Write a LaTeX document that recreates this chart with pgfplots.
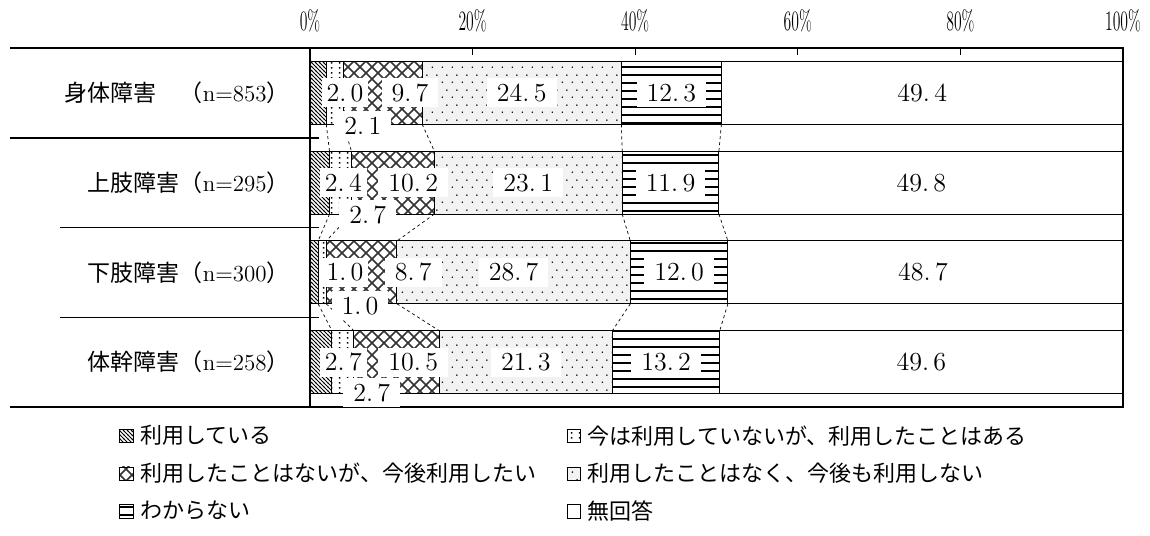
\documentclass[border=0pt]{standalone}
\usepackage{fontspec}
\newfontfamily\cjk{Noto Sans CJK JP}
\usepackage{pgfplots}
\usepackage{pgfplotstable}
\pgfplotsset{compat=1.18}
\usetikzlibrary{patterns}

% patterns (1px = 0.5pt)
\pgfdeclarepatternformonly{pdiag}{\pgfqpoint{-1pt}{-1pt}}{\pgfqpoint{3pt}{3pt}}{\pgfqpoint{2pt}{2pt}}{%
  \pgfsetlinewidth{0.5pt}%
  \pgfpathmoveto{\pgfqpoint{-0.1pt}{2.1pt}}%
  \pgfpathlineto{\pgfqpoint{2.1pt}{-0.1pt}}%
  \pgfusepath{stroke}}
\pgfdeclarepatternformonly{pfine}{\pgfqpoint{0pt}{0pt}}{\pgfqpoint{4pt}{2.5pt}}{\pgfqpoint{4pt}{2.5pt}}{%
  \pgfpathrectangle{\pgfqpoint{1.6pt}{0.85pt}}{\pgfqpoint{0.8pt}{0.8pt}}%
  \pgfusepath{fill}}
\pgfdeclarepatternformonly{pcross}{\pgfqpoint{-1pt}{-1pt}}{\pgfqpoint{7pt}{7pt}}{\pgfqpoint{6pt}{6pt}}{%
  \pgfsetlinewidth{0.75pt}%
  \pgfpathmoveto{\pgfqpoint{-0.2pt}{-0.2pt}}\pgfpathlineto{\pgfqpoint{6.2pt}{6.2pt}}%
  \pgfpathmoveto{\pgfqpoint{-0.2pt}{6.2pt}}\pgfpathlineto{\pgfqpoint{6.2pt}{-0.2pt}}%
  \pgfusepath{stroke}}
\pgfdeclarepatternformonly{psparse}{\pgfqpoint{0pt}{0pt}}{\pgfqpoint{5pt}{7.5pt}}{\pgfqpoint{5pt}{7.5pt}}{%
  \pgfpathcircle{\pgfqpoint{1.25pt}{1.5pt}}{0.45pt}%
  \pgfpathcircle{\pgfqpoint{3.75pt}{5.25pt}}{0.45pt}%
  \pgfusepath{fill}}
\pgfdeclarepatternformonly{phoriz}{\pgfqpoint{-0.1pt}{0pt}}{\pgfqpoint{4.1pt}{4pt}}{\pgfqpoint{4pt}{4pt}}{%
  \pgfsetlinewidth{0.9pt}%
  \pgfpathmoveto{\pgfqpoint{-0.1pt}{2pt}}\pgfpathlineto{\pgfqpoint{4.1pt}{2pt}}%
  \pgfusepath{stroke}}

\pgfplotstableread{
row a b c d e f
0 2.0 2.1 9.7 24.5 12.3 49.4
1 2.4 2.7 10.2 23.1 11.9 49.8
2 1.0 1.0 8.7 28.7 12.0 48.7
3 2.7 2.7 10.5 21.3 13.2 49.6
}\shogai

% drawn after the stacked bars
\newcommand\annot{%
% series lines between neighbouring bars (cumulative boundaries)
\draw[sline] (axis cs:2.0,0.35) -- (axis cs:2.4,0.65);
\draw[sline] (axis cs:4.1,0.35) -- (axis cs:5.1,0.65);
\draw[sline] (axis cs:13.8,0.35) -- (axis cs:15.3,0.65);
\draw[sline] (axis cs:38.3,0.35) -- (axis cs:38.4,0.65);
\draw[sline] (axis cs:50.6,0.35) -- (axis cs:50.3,0.65);
\draw[sline] (axis cs:2.4,1.35) -- (axis cs:1.0,1.65);
\draw[sline] (axis cs:5.1,1.35) -- (axis cs:2.0,1.65);
\draw[sline] (axis cs:15.3,1.35) -- (axis cs:10.7,1.65);
\draw[sline] (axis cs:38.4,1.35) -- (axis cs:39.4,1.65);
\draw[sline] (axis cs:50.3,1.35) -- (axis cs:51.4,1.65);
\draw[sline] (axis cs:1.0,2.35) -- (axis cs:2.7,2.65);
\draw[sline] (axis cs:2.0,2.35) -- (axis cs:5.4,2.65);
\draw[sline] (axis cs:10.7,2.35) -- (axis cs:15.9,2.65);
\draw[sline] (axis cs:39.4,2.35) -- (axis cs:37.2,2.65);
\draw[sline] (axis cs:51.4,2.35) -- (axis cs:50.4,2.65);
% category separators at the left
\draw[sep] (axis cs:0,-0.5) -- ++(-150pt,0pt);
\draw[sep] (axis cs:0,0.5) ++(4.5pt,0pt) -- ++(-154.5pt,0pt);
\draw[sep] (axis cs:0,1.5) ++(4.5pt,0pt) -- ++(-129.5pt,0pt);
\draw[sep] (axis cs:0,2.5) ++(4.5pt,0pt) -- ++(-129.5pt,0pt);
\draw[sep] (axis cs:0,3.5) -- ++(-150pt,0pt);
% data labels
\node[slbl] at (axis cs:4.3,0) {2.\,0};
\node[lbl] at (axis cs:12.3,0) {9.\,7};
\node[lbl] at (axis cs:6.5,0.37) {2.\,1};
\node[lbl] at (axis cs:26.05,0) {24.\,5};
\node[lbl] at (axis cs:44.45,0) {12.\,3};
\node[lbl] at (axis cs:75.3,0) {49.\,4};
\node[slbl] at (axis cs:4.1,1) {2.\,4};
\node[lbl] at (axis cs:12.7,1) {10.\,2};
\node[lbl] at (axis cs:7.1,1.36) {2.\,7};
\node[lbl] at (axis cs:26.85,1) {23.\,1};
\node[lbl] at (axis cs:44.35,1) {11.\,9};
\node[lbl] at (axis cs:75.2,1) {49.\,8};
\node[slbl] at (axis cs:4.3,2) {1.\,0};
\node[lbl] at (axis cs:12.7,2) {8.\,7};
\node[lbl] at (axis cs:6.15,2.37) {1.\,0};
\node[lbl] at (axis cs:25.05,2) {28.\,7};
\node[lbl] at (axis cs:45.4,2) {12.\,0};
\node[lbl] at (axis cs:75.4,2) {48.\,7};
\node[slbl] at (axis cs:4.1,3) {2.\,7};
\node[lbl] at (axis cs:12.7,3) {10.\,5};
\node[lbl] at (axis cs:7.6,3.34) {2.\,7};
\node[lbl] at (axis cs:26.55,3) {21.\,3};
\node[lbl] at (axis cs:43.8,3) {13.\,2};
\node[lbl] at (axis cs:75.2,3) {49.\,6};
}

\begin{document}
\begin{tikzpicture}[
    lbl/.style={fill=white, inner xsep=5pt, inner ysep=3pt, text height=8.6pt, text depth=0pt,
      font=\fontsize{13}{15}\selectfont},
    slbl/.style={lbl, inner xsep=2.5pt},
    sline/.style={line width=0.35pt, dash pattern=on 1.5pt off 1.5pt},
    sep/.style={line width=0.75pt}]
\useasboundingbox (0pt,0pt) rectangle (575pt,-267.5pt);
\begin{axis}[
    at={(155pt,-24pt)}, anchor=north west,
    scale only axis, width=406.5pt, height=179.5pt,
    axis on top,
    xbar stacked, bar width=0.7,
    xmin=0, xmax=100, ymin=-0.5, ymax=3.5, y dir=reverse,
    clip=false,
    axis line style={line width=0.9pt},
    xtick={0,20,...,100}, xtick pos=right, xticklabel pos=right,
    tick align=inside, major tick length=3.5pt,
    xtick style={line width=0.5pt, black},
    xticklabel={\scalebox{0.56}[1]{\pgfmathprintnumber[assume math mode=true]{\tick}\%}},
    xticklabel style={font=\fontsize{14}{16}\selectfont, inner sep=0pt},
    xticklabel shift=8pt,
    ytick={0,1,2,3}, ytick style={draw=none},
    yticklabels={
      {{\cjk 身体障害　（}n=853{\cjk ）}},
      {{\cjk 上肢障害（}n=295{\cjk ）}},
      {{\cjk 下肢障害（}n=300{\cjk ）}},
      {{\cjk 体幹障害（}n=258{\cjk ）}}},
    yticklabel style={font=\fontsize{11.5}{13}\selectfont, inner sep=0pt},
    yticklabel shift=10pt,
    legend columns=2, legend cell align=left,
    legend image code/.code={\draw[#1, line width=0.4pt] (0.5pt,-3.2pt) rectangle (7.2pt,3.5pt);},
    legend style={draw=none, fill=none, inner sep=0pt,
      at={(axis description cs:-0.2349,-0.042)}, anchor=north west,
      font=\cjk\fontsize{11}{13}\selectfont,
      row sep=5pt, column sep=2pt,
      nodes={inner sep=1.5pt}},
    after end axis/.code={\annot},
]
\addplot[draw=black, line width=0.5pt, fill=white, postaction={pattern=pdiag}] table[x=a, y=row]{\shogai};
\addlegendentry{\makebox[209.5pt][l]{利用している}}
\addplot[draw=black, line width=0.5pt, fill=white, postaction={pattern=pfine}] table[x=b, y=row]{\shogai};
\addlegendentry{今は利用していないが、利用したことはある}
\addplot[draw=black, line width=0.5pt, fill=white, postaction={pattern=pcross, pattern color=black!80}] table[x=c, y=row]{\shogai};
\addlegendentry{\makebox[209.5pt][l]{利用したことはないが、今後利用したい}}
\addplot[draw=black, line width=0.5pt, fill=black!5, postaction={pattern=psparse}] table[x=d, y=row]{\shogai};
\addlegendentry{利用したことはなく、今後も利用しない}
\addplot[draw=black, line width=0.5pt, fill=white, postaction={pattern=phoriz}] table[x=e, y=row]{\shogai};
\addlegendentry{\makebox[209.5pt][l]{わからない}}
\addplot[draw=black, line width=0.5pt, fill=white] table[x=f, y=row]{\shogai};
\addlegendentry{無回答}
\end{axis}
\end{tikzpicture}
\end{document}
